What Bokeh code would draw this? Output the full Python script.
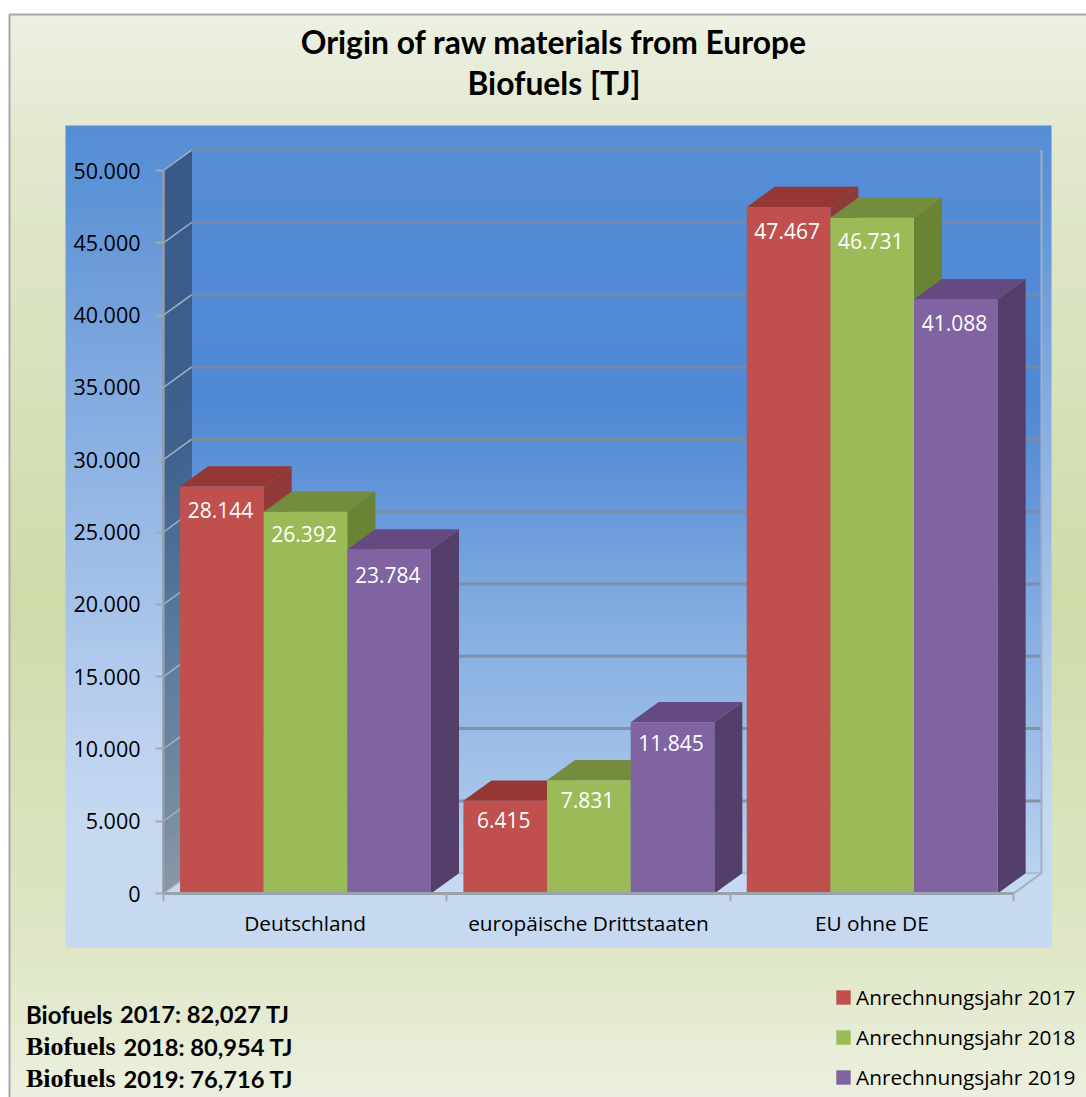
import numpy as np
from bokeh.core.properties import value
from bokeh.embed import file_html
from bokeh.models import ColumnDataSource, FixedTicker, Legend, LegendItem, LinearAxis, Range1d
from bokeh.plotting import figure
from bokeh.resources import INLINE

# ---- data ----
categories = ["Deutschland", "europäische Drittstaaten", "EU ohne DE"]
series_names = ["Anrechnungsjahr 2017", "Anrechnungsjahr 2018", "Anrechnungsjahr 2019"]
values_2017 = [28144, 6415, 47467]
values_2018 = [26392, 7831, 46731]
values_2019 = [23784, 11845, 41088]
y_ticks = [0, 5000, 10000, 15000, 20000, 25000, 30000, 35000, 40000, 45000, 50000]
y_tick_labels = ["0", "5.000", "10.000", "15.000", "20.000", "25.000", "30.000", "35.000", "40.000", "45.000", "50.000"]
title_lines = ["Origin of raw materials from Europe", "Biofuels [TJ]"]
totals_years = ["2017: 82,027 TJ", "2018: 80,954 TJ", "2019: 76,716 TJ"]

# ---- layout (image pixels -> data) ----
W, H = 1086, 1097
X0, PX_CAT = 163.0, 283.33
Y0, PX_VAL = 893.0, 723.0 / 50000
DEPTH_X, DEPTH_Y = 28.0 / PX_CAT, 20.3 / PX_VAL
GAP, BAR_W = 0.0585, 0.2952


def xd(px):
    return (px - X0) / PX_CAT


def yd(py):
    return (Y0 - py) / PX_VAL


def rgb(h):
    return [int(h[i:i + 2], 16) for i in (1, 3, 5)]


def gradient(top, bottom, stops, width=1):
    """Vertical gradient image between image rows top..bottom."""
    rows = np.arange(bottom, top, -1) - 0.5
    ys = [s[0] for s in stops]
    cols = np.array([rgb(s[1]) for s in stops], dtype=float)
    img = np.zeros((len(rows), width, 4), dtype=np.uint8)
    for c in range(3):
        img[:, :, c] = np.interp(rows, ys, cols[:, c])[:, None].astype(np.uint8)
    img[:, :, 3] = 255
    return img.view(dtype=np.uint32).reshape(len(rows), width)


p = figure(width=W, height=H, output_backend="svg", toolbar_location=None,
           x_range=Range1d(xd(0), xd(W)), y_range=Range1d(yd(H), yd(0)),
           x_axis_type=None, y_axis_type=None, min_border=0, outline_line_color=None,
           background_fill_color="white", border_fill_color="white")
p.grid.visible = False


def bg(left, right, top, bottom, stops):
    p.image_rgba(image=[gradient(top, bottom, stops)], x=xd(left), y=yd(bottom),
                 dw=(right - left) / PX_CAT, dh=(bottom - top) / PX_VAL)


# card
bg(9, 1086, 14, 1097, [(14, "#EDF1E2"), (150, "#E2E8CE"), (600, "#CEDCAA"), (950, "#DFE7C7"), (1097, "#ECF1DF")])
p.line(x=[xd(9), xd(9), xd(1086)], y=[yd(1097), yd(14), yd(14)], line_color="#A8A8A8", line_width=2)

# blue panel
bg(65, 1051, 125, 947, [(125, "#558ED5"), (200, "#5F95D7"), (350, "#7CA6DE"), (450, "#8CB2E3"),
                        (600, "#A6C2E9"), (720, "#BBD0EF"), (820, "#C6D9F1"), (947, "#C6D9F1")])

# back wall and floor
wall_top, wall_bot = Y0 - 723 - 20.3, Y0 - 20.3
bg(191, 1041, wall_top, wall_bot, [(wall_top, "#558DD6"), (400, "#5089D5"), (500, "#6597DA"),
                                   (600, "#80ABE0"), (700, "#93B8E5"), (800, "#A9C6EB"), (wall_bot, "#BAD3F0")])
p.patch(x=[0, 3, 3 + DEPTH_X, DEPTH_X], y=[0, 0, DEPTH_Y, DEPTH_Y], fill_color="#C5DAF2", line_color=None)

# side wall, as bands running from dark to light (each covers everything above it)
wall_levels = np.linspace(0, 50000, 73)
wall_stops = [(0, "#8A98A6"), (7000, "#72899F"), (17000, "#5B7BA0"), (30000, "#3F628F"), (50000, "#375A89")]
wall_rgb = np.array([rgb(s[1]) for s in wall_stops], dtype=float)
for lo, hi in zip(wall_levels[:-1], wall_levels[1:]):
    mid = (lo + hi) / 2
    col = [int(np.interp(mid, [s[0] for s in wall_stops], wall_rgb[:, c])) for c in range(3)]
    p.patch(x=[0, DEPTH_X, DEPTH_X, 0], y=[lo, lo + DEPTH_Y, 50000 + DEPTH_Y, 50000],
            fill_color="#%02X%02X%02X" % tuple(col), line_color=None)

# gridlines
grid_levels = [t for t in y_ticks if t > 0]
p.segment(x0=[DEPTH_X] * len(grid_levels), y0=[t + DEPTH_Y for t in grid_levels],
          x1=[3 + DEPTH_X] * len(grid_levels), y1=[t + DEPTH_Y for t in grid_levels],
          line_color="#7C8A9F", line_width=3, line_alpha=0.85)
p.segment(x0=[0] * len(y_ticks), y0=y_ticks, x1=[DEPTH_X] * len(y_ticks), y1=[t + DEPTH_Y for t in y_ticks],
          line_color="#A3B1C2", line_width=1.5)
p.line(x=[DEPTH_X, 3 + DEPTH_X], y=[DEPTH_Y, DEPTH_Y], line_color="#AEBBC9", line_width=2)
p.line(x=[3, 3 + DEPTH_X, 3 + DEPTH_X], y=[0, DEPTH_Y, 50000 + DEPTH_Y], line_color="#9FB0C4", line_width=2)

# bars
series = [values_2017, values_2018, values_2019]
front = ["#C0504D", "#9BBB59", "#8064A2"]
top_col = ["#953735", "#748C3E", "#644A80"]
side_col = ["#8F3A38", "#6A8436", "#533F69"]
legend_items = []
for s, vals in enumerate(series):
    left = [c + GAP + s * BAR_W for c in range(3)]
    right = [l + BAR_W for l in left]
    p.patches(xs=[[r, r + DEPTH_X, r + DEPTH_X, r] for r in right],
              ys=[[0, DEPTH_Y, v + DEPTH_Y, v] for v in vals], fill_color=side_col[s], line_color=None)
    p.patches(xs=[[l, r, r + DEPTH_X, l + DEPTH_X] for l, r in zip(left, right)],
              ys=[[v, v, v + DEPTH_Y, v + DEPTH_Y] for v in vals], fill_color=top_col[s], line_color=None)
    r_front = p.quad(left=left, right=right, bottom=[0] * 3, top=vals, fill_color=front[s], line_color=None)
    legend_items.append(LegendItem(label=series_names[s], renderers=[r_front]))

# data labels
label_dy = [[23, 19, 24], [22, 20, 23], [25, 21, 24]]
for s, vals in enumerate(series):
    src = ColumnDataSource(dict(x=[c + GAP + (s + 0.5) * BAR_W - 0.005 for c in range(3)], y=vals,
                                t=[f"{v:,}".replace(",", ".") for v in vals], dy=label_dy[s]))
    p.text(x="x", y="y", text="t", y_offset="dy", source=src, text_color="white", text_align="center",
           text_baseline="middle", text_font=value("Open Sans"), text_font_size="21px")

# axes inside the frame
yaxis = LinearAxis(ticker=FixedTicker(ticks=y_ticks), fixed_location=0, bounds=(0, 50000),
                   major_label_overrides=dict(zip(y_ticks, y_tick_labels)),
                   axis_line_color="#929CA8", axis_line_width=2.5,
                   major_tick_line_color="#A8A8A8", major_tick_line_width=2, major_tick_out=8, major_tick_in=0,
                   minor_tick_line_color=None, major_label_standoff=15,
                   major_label_text_font="Open Sans", major_label_text_font_size="21.5px",
                   major_label_text_color="black")
p.add_layout(yaxis, "left")
xaxis = LinearAxis(ticker=FixedTicker(ticks=[0.5, 1.5, 2.5], minor_ticks=[0, 1, 2, 3]), fixed_location=0, bounds=(0, 3),
                   major_label_overrides=dict(zip([0.5, 1.5, 2.5], categories)),
                   axis_line_color="#9AA3AD", axis_line_width=3,
                   major_tick_line_color=None, minor_tick_line_color="#A8A8A8", minor_tick_line_width=2,
                   minor_tick_out=8, minor_tick_in=0, major_label_standoff=7,
                   major_label_text_font="Open Sans", major_label_text_font_size="20.8px",
                   major_label_text_color="black")
p.add_layout(xaxis, "below")

# title
p.text(x=[xd(553.5)] * 2, y=[yd(41.5), yd(82)], text=title_lines, text_align="center", text_baseline="alphabetic",
       text_color="black", text_font=value("Lato"), text_font_style="bold", text_font_size="31.8px")

# totals
rows = [yd(1013.5), yd(1046), yd(1078)]
p.text(x=[xd(25.5)], y=[rows[0]], text=["Biofuels"], text_baseline="alphabetic", text_color="black",
       text_font=value("Lato"), text_font_style="bold", text_font_size="24px")
p.text(x=[xd(25.5)] * 2, y=rows[1:], text=["Biofuels"] * 2, text_baseline="alphabetic", text_color="black",
       text_font=value("Liberation Serif"), text_font_style="bold", text_font_size="26px")
p.text(x=[xd(119.5), xd(123), xd(123)], y=rows, text=totals_years, text_baseline="alphabetic", text_color="black",
       text_font=value("Lato"), text_font_style="bold", text_font_size="23.7px")

# legend
legend = Legend(items=legend_items, location=(834, 6), orientation="vertical",
                background_fill_alpha=0, border_line_color=None, padding=0, margin=0,
                glyph_width=18, glyph_height=18, label_standoff=4, spacing=12,
                label_text_font="Open Sans", label_text_font_size="20.8px", label_text_color="black")
p.add_layout(legend, "center")

open("out.html", "w").write(file_html(p, INLINE))
